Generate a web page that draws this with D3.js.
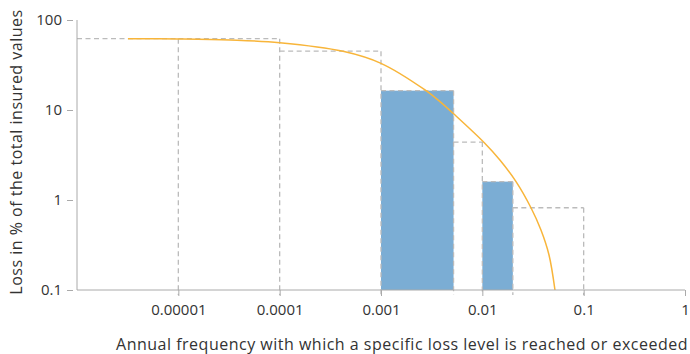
<!DOCTYPE html>
<html>
<head>
<meta charset="utf-8">
<script src="https://cdn.jsdelivr.net/npm/d3@7"></script>
<style>
  body { margin: 0; background: #fff; }
  svg text { font-family: "Open Sans", "Noto Sans", sans-serif; fill: #333; }
  .axis text { font-size: 15px; }
  .title { font-size: 16px; letter-spacing: 0.5px; }
</style>
</head>
<body>
<div class="chart"></div>
<script>
// tick values
const xTicks = [0.00001, 0.0001, 0.001, 0.01, 0.1, 1]
const xTickLabels = ['0.00001', '0.0001', '0.001', '0.01', '0.1', '1']
const yTicks = [0.1, 1, 10, 100]
const yTickLabels = ['0.1', '1', '10', '100']

// dashed step boxes: frequency from / to, loss %
const stepFrom = [0.000001, 0.00001, 0.0001, 0.001, 0.0052, 0.01, 0.02]
const stepTo   = [0.00001, 0.0001, 0.001, 0.0052, 0.01, 0.02, 0.1]
const stepLoss = [62, 62, 45, 16.4, 4.4, 1.6, 0.82]
const stepFilled = [false, false, false, true, false, true, false]

// exceedance curve
const curveFreq = [0.00000318, 0.00001, 0.0000324, 0.0001, 0.000422, 0.001, 0.00272, 0.00382, 0.00514, 0.0104, 0.0149, 0.0215, 0.0302, 0.0379, 0.0455, 0.0521]
const curveLoss = [62, 61.5, 59.9, 56, 44.9, 33, 16.7, 12.4, 9.19, 4.35, 2.78, 1.6, 0.82, 0.464, 0.245, 0.1]

const width = 690, height = 354
const margin = {top: 20, right: 5, bottom: 64, left: 77}

const svg = d3.select('.chart').append('svg')
  .attr('width', width)
  .attr('height', height)

const x = d3.scaleLog().domain([0.000001, 1]).range([margin.left, width - margin.right])
const y = d3.scaleLog().domain([0.1, 100]).range([height - margin.bottom, margin.top])

const boxes = stepLoss.map((v, i) => ({x0: stepFrom[i], x1: stepTo[i], v: v, filled: stepFilled[i]}))

// bars
svg.append('g').selectAll('rect')
  .data(boxes.filter(d => d.filled))
  .join('rect')
  .attr('x', d => x(d.x0))
  .attr('width', d => x(d.x1) - x(d.x0))
  .attr('y', d => y(d.v))
  .attr('height', d => y(0.1) - y(d.v))
  .attr('fill', '#7badd4')

// dashed outlines: tops, then one vertical per boundary
const segs = []
boxes.forEach((d, i) => {
  segs.push([x(d.x0), y(d.v), x(d.x1), y(d.v)])
  const next = boxes[i + 1]
  const top = next ? Math.max(d.v, next.v) : d.v
  segs.push([x(d.x1), y(top), x(d.x1), y(0.1) + 5])
})

svg.append('g').selectAll('line')
  .data(segs)
  .join('line')
  .attr('x1', d => d[0]).attr('y1', d => d[1])
  .attr('x2', d => d[2]).attr('y2', d => d[3])
  .attr('stroke', '#bbb')
  .attr('stroke-width', 1.3)
  .attr('stroke-dasharray', '5,3.5')

// curve
const pts = curveFreq.map((f, i) => ({f: f, v: curveLoss[i]}))
svg.append('path')
  .datum(pts)
  .attr('d', d3.line().x(d => x(d.f)).y(d => y(d.v)).curve(d3.curveCatmullRom))
  .attr('fill', 'none')
  .attr('stroke', '#f8b53a')
  .attr('stroke-width', 1.5)

// y axis
const yAxis = svg.append('g')
  .attr('class', 'axis')
  .attr('transform', `translate(${margin.left - 4},0)`)
  .call(d3.axisLeft(y).tickValues(yTicks).tickFormat((d, i) => yTickLabels[i]).tickSize(6).tickPadding(5))
yAxis.select('.domain').remove()
yAxis.selectAll('line').attr('stroke', '#aaa')

// x axis
const xAxis = svg.append('g')
  .attr('class', 'axis')
  .attr('transform', `translate(0,${height - margin.bottom})`)
  .call(d3.axisBottom(x).tickValues(xTicks).tickFormat((d, i) => xTickLabels[i]).tickSize(6).tickPadding(8))
xAxis.select('.domain').remove()
xAxis.selectAll('line').attr('stroke', '#aaa')

// axis lines
svg.append('line')
  .attr('x1', margin.left).attr('x2', margin.left)
  .attr('y1', margin.top).attr('y2', height - margin.bottom)
  .attr('stroke', '#aaa')
svg.append('line')
  .attr('x1', margin.left).attr('x2', width - margin.right)
  .attr('y1', height - margin.bottom).attr('y2', height - margin.bottom)
  .attr('stroke', '#aaa')

// titles
svg.append('text')
  .attr('class', 'title')
  .attr('transform', `translate(22,152) rotate(-90)`)
  .attr('text-anchor', 'middle')
  .text('Loss in % of the total insured values')

svg.append('text')
  .attr('class', 'title')
  .attr('x', width - 2)
  .attr('y', 350)
  .attr('text-anchor', 'end')
  .text('Annual frequency with which a specific loss level is reached or exceeded')
</script>
</body>
</html>
